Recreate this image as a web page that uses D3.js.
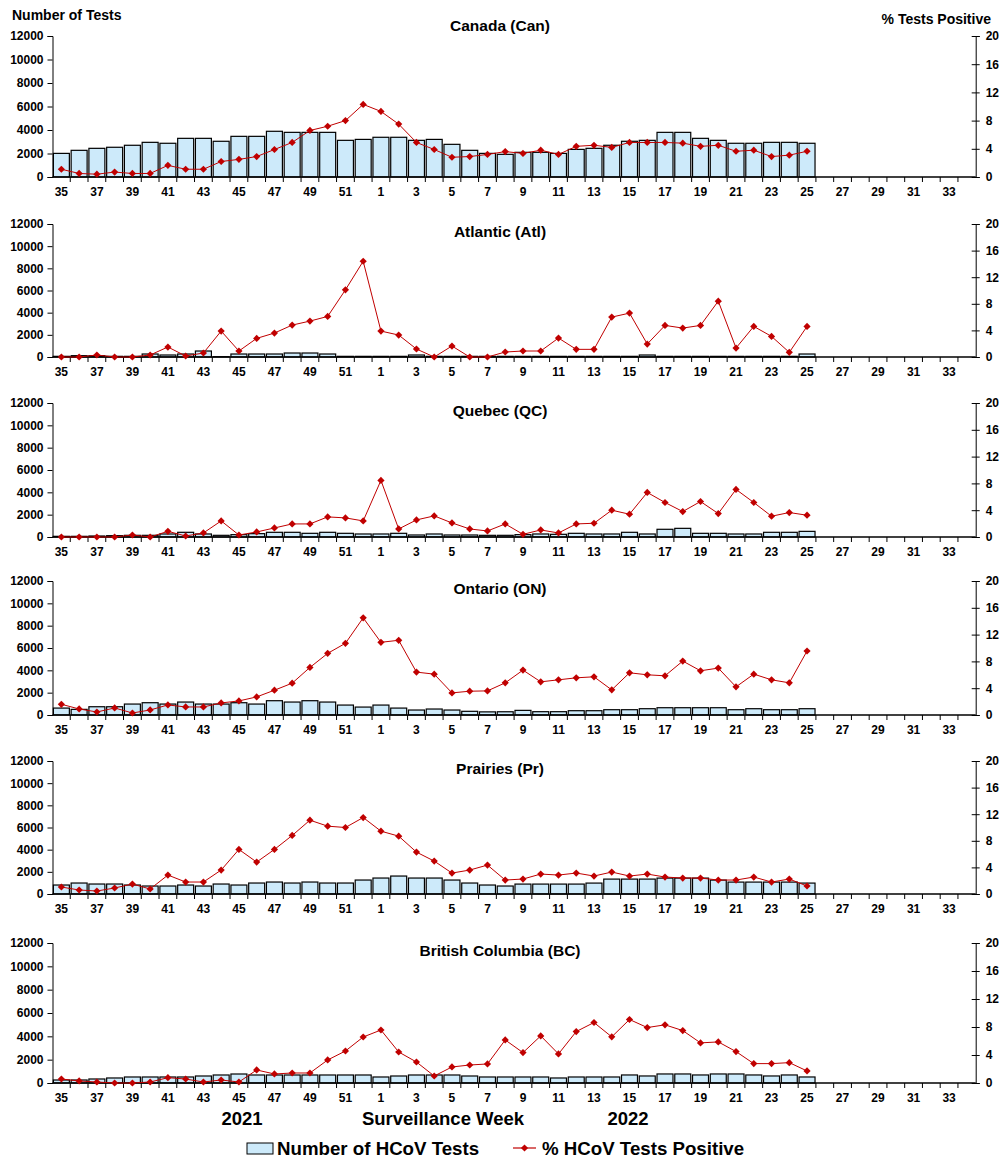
<!DOCTYPE html>
<html><head><meta charset="utf-8">
<script src="https://cdn.jsdelivr.net/npm/d3@7"></script>
<style>
body{margin:0;background:#fff;}
svg text{font-family:"Liberation Sans",Arial,sans-serif;font-weight:bold;fill:#000;}
</style></head>
<body><svg id="c" width="1002" height="1170"></svg>
<script>
const weeks = [35,36,37,38,39,40,41,42,43,44,45,46,47,48,49,50,51,52,1,2,3,4,5,6,7,8,9,10,11,12,13,14,15,16,17,18,19,20,21,22,23,24,25,26,27,28,29,30,31,32,33,34];
const leftTicks = [0,2000,4000,6000,8000,10000,12000];
const rightTicks = [0,4,8,12,16,20];
const regionNames = ["Canada (Can)","Atlantic (Atl)","Quebec (QC)","Ontario (ON)","Prairies (Pr)","British Columbia (BC)"];

const canTests = [2010,2270,2440,2530,2700,2950,2870,3290,3290,3040,3460,3460,3890,3800,3800,3800,3120,3200,3380,3380,3120,3200,2780,2270,2010,1930,2100,2100,2010,2350,2440,2700,3040,3120,3800,3800,3290,3120,2870,2870,2950,2950,2870];
const canPct = [1.1,0.5,0.4,0.7,0.5,0.5,1.65,1.1,1.1,2.2,2.5,2.9,3.9,4.9,6.6,7.2,8.0,10.3,9.3,7.5,4.9,3.9,2.8,2.9,3.2,3.6,3.35,3.8,3.2,4.35,4.5,4.2,4.9,4.9,4.9,4.8,4.35,4.5,3.65,3.8,2.9,3.1,3.65];

const atlTests = [60,120,120,60,60,270,180,270,540,30,270,270,270,360,360,270,60,60,60,60,180,60,60,60,60,60,60,60,60,60,60,60,60,180,60,60,60,60,60,60,60,60,270];
const atlPct = [0,0,0.3,0,0,0.3,1.5,0.15,0.6,3.9,0.9,2.8,3.6,4.8,5.4,6.1,10.1,14.4,3.9,3.3,1.2,0,1.65,0,0,0.75,0.9,0.9,2.85,1.15,1.15,6.0,6.6,1.95,4.75,4.35,4.75,8.4,1.35,4.6,3.1,0.7,4.6];

const qcTests = [60,60,90,120,150,150,270,420,270,150,210,300,420,420,330,420,330,270,270,330,180,270,180,180,150,150,210,270,240,330,270,270,420,270,690,775,330,330,270,270,420,420,505];
const qcPct = [0,0,0,0,0.3,0,0.85,0.15,0.6,2.4,0.3,0.75,1.35,1.95,1.95,3.0,2.85,2.4,8.45,1.2,2.55,3.15,2.1,1.2,0.9,1.95,0.4,1.05,0.6,1.95,2.05,4.0,3.4,6.65,5.15,3.8,5.3,3.5,7.1,5.15,3.1,3.65,3.25];

const onTests = [620,505,740,740,980,1100,980,1160,980,980,1100,980,1280,1160,1280,1160,890,710,890,620,445,535,445,330,280,290,415,296,296,385,385,474,474,563,652,652,652,652,474,563,474,474,563];
const onPct = [1.6,0.9,0.45,1.05,0.3,0.75,1.5,1.2,1.2,1.8,2.1,2.7,3.7,4.75,7.1,9.2,10.7,14.5,10.85,11.15,6.4,6.1,3.3,3.55,3.6,4.8,6.7,4.95,5.25,5.55,5.7,3.75,6.3,6.0,5.85,8.05,6.6,7.0,4.2,6.1,5.25,4.8,9.55];

const prTests = [810,990,900,900,810,720,720,810,720,900,810,990,1080,990,1080,990,990,1260,1440,1620,1440,1440,1260,990,810,720,895,895,895,895,985,1345,1345,1345,1435,1435,1435,1255,1075,1075,1075,1075,985];
const prPct = [1.05,0.6,0.45,0.9,1.5,0.75,2.85,1.8,1.8,3.6,6.7,4.8,6.7,8.8,11.1,10.2,10.0,11.5,9.45,8.7,6.3,4.95,3.15,3.6,4.35,2.1,2.25,3.0,2.85,3.15,2.7,3.3,2.7,3.0,2.55,2.4,2.4,2.1,2.1,2.55,1.8,2.25,1.2];

const bcTests = [257,257,343,430,515,515,515,515,600,686,771,686,686,686,686,686,686,686,515,600,686,686,686,600,515,515,515,515,430,515,515,515,688,602,774,774,688,774,774,688,602,688,516];
const bcPct = [0.57,0.29,0.14,0,0,0.14,0.76,0.57,0.14,0.43,0.14,1.86,1.29,1.43,1.43,3.29,4.57,6.57,7.57,4.43,3.0,1.0,2.29,2.57,2.72,6.15,4.34,6.73,4.15,7.35,8.64,6.59,9.07,7.92,8.31,7.49,5.73,5.87,4.49,2.77,2.77,2.91,1.72];

const testsSeries = [canTests, atlTests, qcTests, onTests, prTests, bcTests];
const pctSeries = [canPct, atlPct, qcPct, onPct, prPct, bcPct];

// layout
const panelTops = [36, 224, 403, 581, 761, 943];
const panelBottoms = [177, 357, 537, 715, 894, 1083];
const X0 = 52.5, X1 = 975.7;
const BAR_FILL = "#cdeafa", LINE_COL = "#c00000";

const svg = d3.select("#c");
const x = d3.scaleBand().domain(weeks).range([X0, X1]).paddingInner(0.1).paddingOuter(0.05);
const step = x.step(), bw = x.bandwidth(), off = step * 0.05;

regionNames.forEach((name, pi) => {
  const top = panelTops[pi], bot = panelBottoms[pi];
  const yL = d3.scaleLinear().domain([0, 12000]).range([bot, top]);
  const yR = d3.scaleLinear().domain([0, 20]).range([bot, top]);
  const g = svg.append("g");
  const tests = testsSeries[pi], pct = pctSeries[pi];
  const tData = tests.map((v, i) => ({w: weeks[i], v}));
  const pData = pct.map((v, i) => ({w: weeks[i], v}));

  g.selectAll("rect.bar").data(tData).enter().append("rect")
    .attr("x", d => x(d.w)).attr("width", bw)
    .attr("y", d => yL(d.v)).attr("height", d => bot - yL(d.v))
    .attr("fill", BAR_FILL).attr("stroke", "#000").attr("stroke-width", 1.2);

  const la = g.append("g").attr("transform", `translate(${X0},0)`)
    .call(d3.axisLeft(yL).tickValues(leftTicks).tickSize(5).tickPadding(4).tickFormat(d3.format("d")));
  la.selectAll("text").style("font-size", "12px");

  const ra = g.append("g").attr("transform", `translate(${X1},0)`)
    .call(d3.axisRight(yR).tickValues(rightTicks).tickSize(4).tickPadding(6));
  ra.selectAll(".tick line").attr("x1", -4);
  ra.selectAll("text").style("font-size", "12px");

  const xa = g.append("g").attr("transform", `translate(0,${bot})`);
  xa.append("line").attr("x1", X0).attr("x2", X1).attr("stroke", "#000").attr("stroke-width", 1.3);
  const bounds = weeks.map(w => x(w) - off).concat([X1]);
  xa.selectAll("line.t").data(bounds.slice(1, -1)).enter().append("line")
    .attr("x1", d => d).attr("x2", d => d).attr("y1", 0).attr("y2", 5).attr("stroke", "#000");
  xa.selectAll("text").data(weeks.filter((w, i) => i % 2 === 0)).enter().append("text")
    .attr("x", d => x(d) + bw / 2).attr("y", 19).attr("text-anchor", "middle")
    .style("font-size", "12px").text(d => d);

  const line = d3.line().x(d => x(d.w) + bw / 2).y(d => yR(d.v));
  g.append("path").datum(pData).attr("d", line).attr("fill", "none")
    .attr("stroke", LINE_COL).attr("stroke-width", 1);
  const sym = d3.symbol(d3.symbolSquare, 26);
  g.selectAll("path.m").data(pData).enter().append("path")
    .attr("d", sym).attr("fill", LINE_COL)
    .attr("transform", d => `translate(${x(d.w) + bw / 2},${yR(d.v)}) rotate(45)`);

  g.append("text").attr("x", 500).attr("y", pi === 0 ? 30.5 : top + 12.5)
    .attr("text-anchor", "middle").style("font-size", "15.5px").text(name);
});

svg.append("text").attr("x", 12).attr("y", 20).style("font-size", "14px").text("Number of Tests");
svg.append("text").attr("x", 991).attr("y", 24).attr("text-anchor", "end").style("font-size", "14px").text("%  Tests Positive");

svg.append("text").attr("x", 242).attr("y", 1125).attr("text-anchor", "middle").style("font-size", "18.5px").text("2021");
svg.append("text").attr("x", 443).attr("y", 1125).attr("text-anchor", "middle").style("font-size", "18.5px").text("Surveillance Week");
svg.append("text").attr("x", 628).attr("y", 1125).attr("text-anchor", "middle").style("font-size", "18.5px").text("2022");

svg.append("rect").attr("x", 247).attr("y", 1143).attr("width", 26).attr("height", 11)
  .attr("fill", BAR_FILL).attr("stroke", "#000");
svg.append("text").attr("x", 277).attr("y", 1155).style("font-size", "18.7px").text("Number of HCoV Tests");
svg.append("line").attr("x1", 513).attr("x2", 536).attr("y1", 1148).attr("y2", 1148).attr("stroke", LINE_COL).attr("stroke-width", 1.2);
svg.append("path").attr("d", d3.symbol(d3.symbolSquare, 26)()).attr("fill", LINE_COL).attr("transform", "translate(524.5,1148) rotate(45)");
svg.append("text").attr("x", 542).attr("y", 1155).style("font-size", "18.7px").text("% HCoV Tests Positive");
</script></body></html>
